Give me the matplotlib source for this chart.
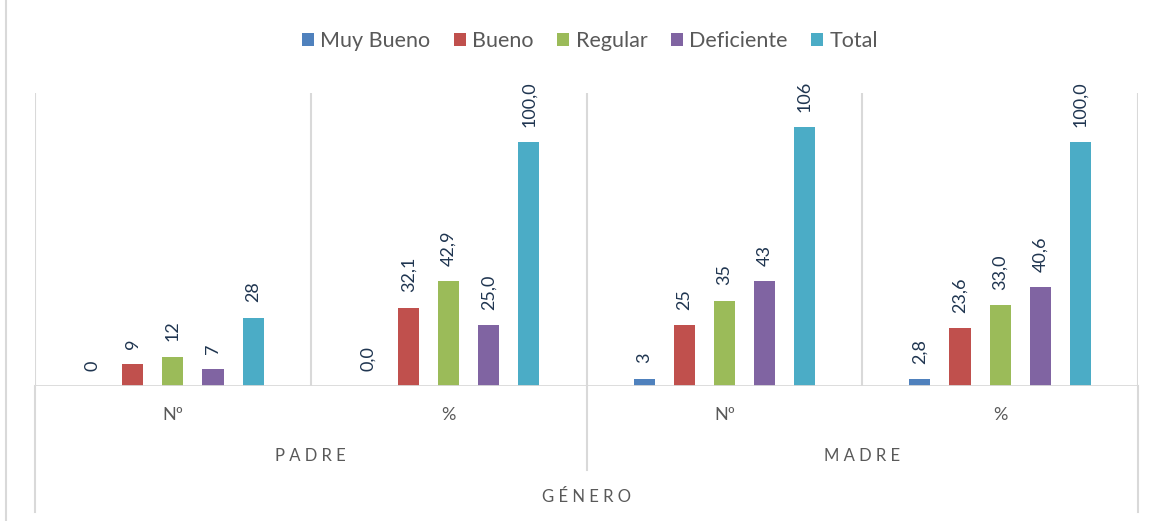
import matplotlib.pyplot as plt
import numpy as np
from matplotlib.lines import Line2D
import matplotlib.transforms as mtransforms

plt.rcParams['font.family'] = ['Lato', 'DejaVu Sans']

# data
series = ['Muy Bueno', 'Bueno', 'Regular', 'Deficiente', 'Total']
sub_cats = ['Nº', '%', 'Nº', '%']
groups = ['PADRE', 'MADRE']
muy_bueno = [0, 0.0, 3, 2.8]
bueno = [9, 32.1, 25, 23.6]
regular = [12, 42.9, 35, 33.0]
deficiente = [7, 25.0, 43, 40.6]
total = [28, 100.0, 106, 100.0]
colors = ['#4F81BD', '#C0504D', '#9BBB59', '#8064A2', '#4BACC6']

values = [muy_bueno, bueno, regular, deficiente, total]

fig = plt.figure(figsize=(11.58, 5.21), dpi=100)
ax = fig.add_axes([35/1158, 1-386/521, (1138-35)/1158, (386-93)/521])

x = np.arange(len(sub_cats))
step = 40/275
width = 21/275
grid_c = '#D9D9D9'
lab_c = '#1F3550'
txt_c = '#595959'

for i, (name, vals) in enumerate(zip(series, values)):
    pos = x + (i - 2) * step
    bars = ax.bar(pos, vals, width, color=colors[i], label=name, zorder=3)
    for j, (b, v) in enumerate(zip(bars, vals)):
        if j % 2 == 0:
            s = '%d' % v
        else:
            s = ('%.1f' % v).replace('.', ',')
        ax.annotate(s, (b.get_x() + b.get_width()/2, v), xytext=(0, 11),
                    textcoords='offset points', rotation=90, ha='center',
                    va='bottom', fontsize=13, color=lab_c)

ax.set_xlim(-0.5, 3.5)
ax.set_ylim(0, 120)
for s in ax.spines.values():
    s.set_visible(False)
ax.set_xticks([])
ax.set_yticks([])

# vertical separators inside plot
for xv in [-0.5, 0.5, 1.5, 2.5, 3.5]:
    ax.axvline(xv, color=grid_c, lw=1.5, zorder=1)
ax.axhline(0, color=grid_c, lw=2, zorder=4)

trans = mtransforms.blended_transform_factory(ax.transData, ax.transAxes)
# lines below axis
for xv, yb in [(-0.5, -0.43), (3.5, -0.43), (1.5, -0.287)]:
    ax.add_line(Line2D([xv, xv], [0, yb], transform=trans, color=grid_c,
                       lw=1.5, clip_on=False))

for xi, lab in zip(x, sub_cats):
    ax.text(xi, -0.099, lab, transform=trans, ha='center', va='center',
            fontsize=13, color=txt_c)
for gi, g in enumerate(groups):
    ax.text(0.5 + 2*gi, -0.239, ' '.join(g), transform=trans, ha='center',
            va='center', fontsize=12, color=txt_c)
ax.text(1.5, -0.379, ' '.join('GÉNERO'), transform=trans, ha='center',
        va='center', fontsize=12, color=txt_c)

# chart border on the left
fig.add_artist(Line2D([6/1158, 6/1158], [0, 1], color=grid_c, lw=1.5))

fig.legend(loc='center', bbox_to_anchor=(590/1158, 1-41/521), ncol=5,
           frameon=False, fontsize=15.5, handlelength=0.55, handleheight=0.55,
           handletextpad=0.3, columnspacing=1.1, labelcolor=txt_c)

fig.savefig('out.png', dpi=100)
